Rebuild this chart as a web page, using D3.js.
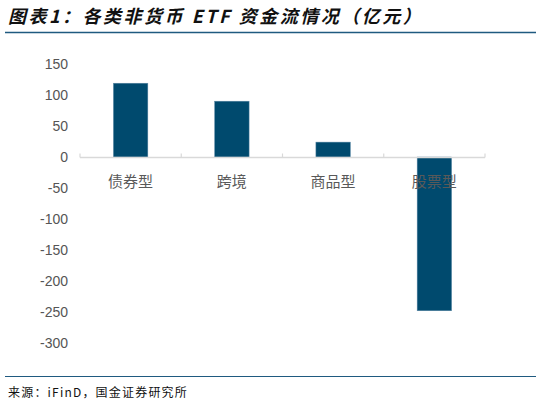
<!DOCTYPE html>
<html lang="zh">
<head>
  <meta charset="UTF-8">
  <title>各类非货币ETF资金流情况</title>
  <script src="https://d3js.org/d3.v7.min.js"></script>
  <style>
    body { margin: 0; background: #fff; }
  </style>
</head>
<body>
  <div class="canvas"></div>
  <script>
    const categories = ["债券型", "跨境", "商品型", "股票型"];
    const flows = [119, 90, 24, -248];
    const yTicks = [150, 100, 50, 0, -50, -100, -150, -200, -250, -300];

    const width = 541;
    const height = 406;

    const svg = d3.select(".canvas")
      .append("svg")
      .attr("width", width)
      .attr("height", height)
      .style("font-family", "'Liberation Sans', Arial, sans-serif");

    // title
    svg.append("text")
      .attr("x", 8)
      .attr("y", 23)
      .attr("font-family", "'Noto Sans CJK SC', sans-serif")
      .attr("font-size", 18)
      .attr("font-style", "italic")
      .attr("font-weight", "bold")
      .attr("letter-spacing", 2.5)
      .attr("fill", "#111")
      .text("图表1：各类非货币 ETF 资金流情况（亿元）");

    svg.append("line")
      .attr("x1", 5).attr("x2", 536)
      .attr("y1", 32.5).attr("y2", 32.5)
      .attr("stroke", "#1f5a80")
      .attr("stroke-width", 1.5);

    svg.append("line")
      .attr("x1", 5).attr("x2", 536)
      .attr("y1", 376.5).attr("y2", 376.5)
      .attr("stroke", "#1f5a80")
      .attr("stroke-width", 1.2);

    svg.append("text")
      .attr("x", 8)
      .attr("y", 397)
      .attr("font-family", "'Noto Sans CJK SC', monospace")
      .attr("font-size", 12)
      .attr("letter-spacing", 1.2)
      .attr("fill", "#111")
      .text("来源：iFinD，国金证券研究所");

    const x = d3.scaleBand()
      .domain(categories)
      .range([80, 485])
      .paddingInner(0.66)
      .paddingOuter(0.33);

    const y = d3.scaleLinear()
      .domain([-300, 150])
      .range([343, 64]);

    // y tick labels (no axis line)
    svg.append("g")
      .selectAll("text")
      .data(yTicks)
      .join("text")
      .attr("x", 68)
      .attr("y", d => y(d))
      .attr("dy", "0.36em")
      .attr("text-anchor", "end")
      .attr("font-size", 14)
      .attr("fill", "#555")
      .text(d => d);

    // bars
    svg.append("g")
      .selectAll("rect")
      .data(flows)
      .join("rect")
      .attr("x", (d, i) => x(categories[i]))
      .attr("width", x.bandwidth())
      .attr("y", d => y(Math.max(0, d)))
      .attr("height", d => Math.abs(y(d) - y(0)))
      .attr("fill", "#004a6e")
      .attr("stroke", "#5b87a5")
      .attr("stroke-width", 0.5);

    // zero axis line with band ticks
    const zeroY = Math.round(y(0)) + 0.5;
    const bandEdges = [80].concat(categories.map((c, i) => 80 + (i + 1) * (405 / categories.length)));
    svg.append("line")
      .attr("x1", 80).attr("x2", 485)
      .attr("y1", zeroY).attr("y2", zeroY)
      .attr("stroke", "#d9d9d9")
      .attr("stroke-width", 1.5);
    svg.append("g")
      .selectAll("line")
      .data(bandEdges)
      .join("line")
      .attr("x1", d => d).attr("x2", d => d)
      .attr("y1", zeroY - 4).attr("y2", zeroY)
      .attr("stroke", "#d9d9d9")
      .attr("stroke-width", 1.2);

    // category labels
    svg.append("g")
      .selectAll("text")
      .data(categories)
      .join("text")
      .attr("x", d => x(d) + x.bandwidth() / 2)
      .attr("y", 187)
      .attr("text-anchor", "middle")
      .attr("font-family", "'Noto Sans CJK SC', sans-serif")
      .attr("font-size", 15)
      .attr("fill", "#595959")
      .text(d => d);
  </script>
</body>
</html>
